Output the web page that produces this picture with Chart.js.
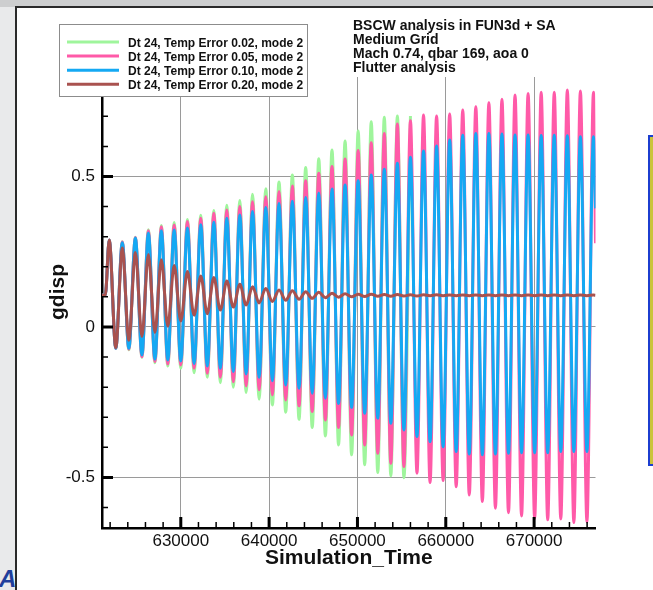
<!DOCTYPE html>
<html>
<head>
<meta charset="utf-8">
<script src="https://cdn.jsdelivr.net/npm/chart.js@4.4.0/dist/chart.umd.min.js"></script>
<style>
  html, body { margin: 0; padding: 0; }
  body { width: 653px; height: 590px; overflow: hidden; position: relative; background: #e9eaeb; font-family: "Liberation Sans", Arial, sans-serif; }
  #topStrip { position: absolute; left: 0; top: 0; width: 653px; height: 7px; background: #cdcecf; }
  #panel { position: absolute; left: 15px; top: 6px; width: 700px; height: 650px; background: #fff; border-left: 2px solid #2a2a2a; border-top: 2px solid #2a2a2a; }
  #sideBox { position: absolute; left: 648px; top: 135px; width: 40px; height: 327px; background: #cac43b; border: 2px solid #1c3ed0; }
  #logo { position: absolute; left: -1px; top: 565px; font: italic bold 24px "Liberation Sans", Arial, sans-serif; color: #1f3f9c; }
  #wrap { position: absolute; left: 0; top: 0; width: 653px; height: 590px; }
</style>
</head>
<body>
<div id="topStrip"></div>
<div id="panel"></div>
<div id="logo">A</div>
<div id="wrap"><canvas id="myChart" width="653" height="590"></canvas></div>
<div id="sideBox"></div>
<script>
// data block: times of the extrema
const startTimes = [621080, 621450];
const startValue = 0.105;
const endTime = 676950;
const peakTimes = [621900, 623380, 624860, 626330, 627800, 629250, 630750, 632260, 633740, 635210,
  636680, 638120, 639620, 641120, 642630, 644140, 645620, 647120, 648600, 650080,
  651560, 653040, 654520, 656000, 657480, 658960, 660440, 661920, 663400, 664880,
  666360, 667840, 669320, 670800, 672280, 673760, 675240, 676720];
const troughTimes = [622640, 624120, 625600, 627070, 628530, 630000, 631510, 633000, 634480, 635950,
  637400, 638870, 640370, 641880, 643390, 644880, 646370, 647860, 649340, 650820,
  652300, 653780, 655260, 656740, 658220, 659700, 661180, 662660, 664140, 665620,
  667100, 668580, 670060, 671540, 673020, 674500, 675980];

// series: value at each peak / trough
const greenPeaks = [0.289, 0.283, 0.298, 0.323, 0.337, 0.347, 0.357, 0.371, 0.387, 0.404, 0.420, 0.441,
  0.459, 0.482, 0.505, 0.530, 0.559, 0.588, 0.618, 0.651, 0.682, 0.697, 0.701, 0.701];
const greenTroughs = [-0.071, -0.076, -0.101, -0.119, -0.130, -0.137, -0.152, -0.167, -0.185, -0.200, -0.218,
  -0.240, -0.259, -0.283, -0.307, -0.334, -0.362, -0.392, -0.425, -0.458, -0.484, -0.495, -0.501];

const pinkPeaks = [0.289, 0.282, 0.297, 0.320, 0.333, 0.339, 0.350, 0.361, 0.378, 0.389, 0.400, 0.416,
  0.433, 0.450, 0.468, 0.486, 0.511, 0.533, 0.558, 0.586, 0.612, 0.643, 0.674, 0.685, 0.704, 0.701,
  0.708, 0.721, 0.732, 0.745, 0.757, 0.771, 0.776, 0.780, 0.780, 0.787, 0.784, 0.780];
const pinkTroughs = [-0.071, -0.074, -0.099, -0.115, -0.123, -0.126, -0.137, -0.154, -0.167, -0.182, -0.196,
  -0.209, -0.226, -0.243, -0.262, -0.281, -0.309, -0.334, -0.359, -0.392, -0.420, -0.453, -0.464, -0.486,
  -0.517, -0.510, -0.531, -0.558, -0.580, -0.602, -0.617, -0.628, -0.636, -0.641, -0.638, -0.650, -0.647];
const pinkEnd = 0.278;

const bluePeaks = [0.289, 0.280, 0.296, 0.312, 0.320, 0.322, 0.329, 0.340, 0.348, 0.361, 0.372, 0.384,
  0.397, 0.410, 0.418, 0.430, 0.445, 0.458, 0.472, 0.486, 0.505, 0.524, 0.544, 0.564, 0.585, 0.601,
  0.621, 0.637, 0.643, 0.643, 0.641, 0.638, 0.638, 0.636, 0.637, 0.635, 0.632, 0.632];
const blueTroughs = [-0.071, -0.071, -0.093, -0.107, -0.110, -0.113, -0.121, -0.130, -0.137, -0.148, -0.156,
  -0.167, -0.179, -0.193, -0.204, -0.220, -0.237, -0.254, -0.267, -0.287, -0.303, -0.320, -0.342, -0.364,
  -0.381, -0.398, -0.414, -0.422, -0.425, -0.422, -0.420, -0.418, -0.418, -0.418, -0.414, -0.414, -0.414];
const blueEnd = 0.394;

const brownPeaks = [0.289, 0.262, 0.247, 0.241, 0.223, 0.204, 0.184, 0.169, 0.164, 0.153, 0.142, 0.134,
  0.128, 0.123, 0.120, 0.117, 0.115, 0.112, 0.110, 0.109, 0.109, 0.108, 0.108, 0.107, 0.107, 0.107,
  0.106, 0.106, 0.106, 0.106, 0.106, 0.106, 0.106, 0.106, 0.106, 0.106, 0.106, 0.106];
const brownTroughs = [-0.069, -0.044, -0.032, -0.018, 0.002, 0.020, 0.039, 0.044, 0.056, 0.066, 0.073,
  0.080, 0.085, 0.089, 0.092, 0.095, 0.097, 0.099, 0.100, 0.101, 0.102, 0.102, 0.103, 0.103, 0.104,
  0.104, 0.104, 0.104, 0.104, 0.104, 0.104, 0.104, 0.104, 0.104, 0.104, 0.104, 0.104];
const brownEnd = 0.105;

const seriesLabels = ['Dt 24, Temp Error 0.02, mode 2', 'Dt 24, Temp Error 0.05, mode 2',
  'Dt 24, Temp Error 0.10, mode 2', 'Dt 24, Temp Error 0.20, mode 2'];
const seriesColors = ['#9ff59c', '#ff5aa8', '#14a9f3', '#a9524f'];

// axes
const xMin = 621080, xMax = 676950;
const yMin = -0.668, yMax = 1.0;
const xMajorTicks = [630000, 640000, 650000, 660000, 670000];
const xMinorTicks = [622000, 624000, 626000, 628000, 632000, 634000, 636000, 638000, 642000, 644000,
  646000, 648000, 652000, 654000, 656000, 658000, 662000, 664000, 666000, 668000, 672000, 674000, 676000];
const yMajorTicks = [-0.5, 0, 0.5];
const yTickLabels = ['-0.5', '0', '0.5'];
const yMinorTicks = [-0.6, -0.4, -0.3, -0.2, -0.1, 0.1, 0.2, 0.3, 0.4, 0.6, 0.7, 0.8, 0.9];
const titleLines = ['BSCW analysis in FUN3d + SA', 'Medium Grid', 'Mach 0.74, qbar 169, aoa 0', 'Flutter analysis'];

// merge start, alternating peaks/troughs and optional end value into points
function buildSeries(peaks, troughs, endValue) {
  const pts = startTimes.map(t => ({x: t, y: startValue}));
  for (let i = 0; i < peaks.length; i++) {
    pts.push({x: peakTimes[i], y: peaks[i]});
    if (i < troughs.length) pts.push({x: troughTimes[i], y: troughs[i]});
  }
  if (endValue !== undefined) pts.push({x: endTime, y: endValue});
  return pts;
}

const data = {
  datasets: [
    {label: seriesLabels[0], data: buildSeries(greenPeaks, greenTroughs), borderColor: seriesColors[0], order: 3},
    {label: seriesLabels[1], data: buildSeries(pinkPeaks, pinkTroughs, pinkEnd), borderColor: seriesColors[1], order: 2},
    {label: seriesLabels[2], data: buildSeries(bluePeaks, blueTroughs, blueEnd), borderColor: seriesColors[2], order: 1},
    {label: seriesLabels[3], data: buildSeries(brownPeaks, brownTroughs, brownEnd), borderColor: seriesColors[3], order: 0}
  ]
};

const FONT = '"Liberation Sans", Arial, Helvetica, sans-serif';

// inward ticks, y title, text boxes
const overlay = {
  id: 'overlay',
  afterDraw(chart) {
    const {ctx, chartArea: area, scales: {x, y}} = chart;
    ctx.save();
    ctx.strokeStyle = '#000';
    ctx.lineWidth = 1.5;
    ctx.beginPath();
    xMajorTicks.forEach(v => { const p = x.getPixelForValue(v); ctx.moveTo(p, area.bottom); ctx.lineTo(p, area.bottom - 11); });
    xMinorTicks.forEach(v => { const p = x.getPixelForValue(v); ctx.moveTo(p, area.bottom); ctx.lineTo(p, area.bottom - 6); });
    yMajorTicks.forEach(v => { const p = y.getPixelForValue(v); ctx.moveTo(area.left, p); ctx.lineTo(area.left + 11, p); });
    yMinorTicks.forEach(v => { const p = y.getPixelForValue(v); ctx.moveTo(area.left, p); ctx.lineTo(area.left + 6, p); });
    ctx.stroke();
    ctx.lineWidth = 3;
    ctx.beginPath();
    xMajorTicks.forEach(v => { const p = x.getPixelForValue(v); ctx.moveTo(p, area.bottom); ctx.lineTo(p, area.bottom - 11); });
    yMajorTicks.forEach(v => { const p = y.getPixelForValue(v); ctx.moveTo(area.left, p); ctx.lineTo(area.left + 11, p); });
    ctx.stroke();

    // y axis title
    ctx.save();
    ctx.translate(58, 292);
    ctx.rotate(-Math.PI / 2);
    ctx.font = 'bold 21px ' + FONT;
    ctx.fillStyle = '#111';
    ctx.textAlign = 'center';
    ctx.textBaseline = 'middle';
    ctx.fillText('gdisp', 0, 0);
    ctx.restore();

    // title text box
    ctx.fillStyle = '#fff';
    ctx.fillRect(350, 12, 212, 65);
    ctx.font = 'bold 14px ' + FONT;
    ctx.fillStyle = '#111';
    ctx.textAlign = 'left';
    ctx.textBaseline = 'alphabetic';
    titleLines.forEach((t, i) => ctx.fillText(t, 353, 29.5 + i * 14.3));

    // legend box
    ctx.fillStyle = '#fff';
    ctx.fillRect(59.5, 24.5, 248, 72);
    ctx.strokeStyle = '#8c8c8c';
    ctx.lineWidth = 1;
    ctx.strokeRect(59.5, 24.5, 248, 72);
    ctx.font = 'bold 12px ' + FONT;
    chart.data.datasets.forEach((ds, i) => {
      const ly = 42 + i * 14.1;
      ctx.strokeStyle = ds.borderColor;
      ctx.lineWidth = 3;
      ctx.beginPath();
      ctx.moveTo(67, ly);
      ctx.lineTo(119, ly);
      ctx.stroke();
      ctx.fillStyle = '#111';
      ctx.fillText(ds.label, 128, ly + 4.6);
    });
    ctx.restore();
  }
};

// config block
const config = {
  type: 'line',
  data: data,
  options: {
    responsive: false,
    animation: false,
    layout: {padding: {left: 0, top: 26, right: 57.5, bottom: 0}},
    elements: {
      point: {radius: 0},
      line: {borderWidth: 3, cubicInterpolationMode: 'monotone'}
    },
    plugins: {legend: {display: false}, tooltip: {enabled: false}},
    scales: {
      x: {
        type: 'linear',
        min: xMin,
        max: xMax,
        afterFit: s => { s.height = 62; },
        afterBuildTicks: s => { s.ticks = xMajorTicks.map(v => ({value: v})); },
        grid: {color: '#9a9a9a', lineWidth: 1, drawTicks: false},
        border: {color: '#000', width: 2.5},
        ticks: {padding: 3, maxRotation: 0, autoSkip: false, color: '#111',
          font: {family: FONT, size: 17}, callback: v => String(v)},
        title: {display: true, text: 'Simulation_Time', color: '#111',
          font: {family: FONT, size: 21, weight: 'bold'}, padding: {top: 0, bottom: 19}}
      },
      y: {
        type: 'linear',
        min: yMin,
        max: yMax,
        afterFit: s => { s.width = 102; },
        afterBuildTicks: s => { s.ticks = yMajorTicks.map(v => ({value: v})); },
        grid: {color: '#9a9a9a', lineWidth: 1, drawTicks: false},
        border: {color: '#000', width: 2.5},
        ticks: {padding: 7, color: '#111', font: {family: FONT, size: 17},
          callback: v => yTickLabels[yMajorTicks.indexOf(v)]}
      }
    }
  },
  plugins: [overlay]
};

// init render block
const myChart = new Chart(document.getElementById('myChart'), config);
</script>
</body>
</html>
